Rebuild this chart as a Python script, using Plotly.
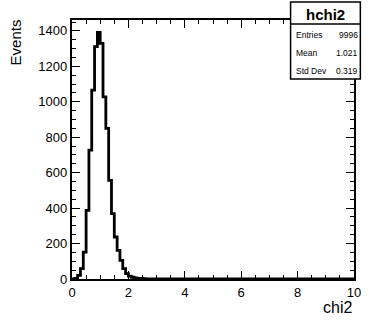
import numpy as np
import plotly.graph_objects as go

# ---- data (100 bins, 0..10) ----
x_min, x_max, n_bins = 0.0, 10.0, 100
counts = [
    1, 4, 20, 58, 152, 387, 727, 1066, 1311, 1392,
    1330, 1028, 850, 557, 369, 237, 161, 105, 58, 30,
    16, 10, 6, 4, 3, 2, 1, 1, 1, 0,
    0, 0, 0, 0, 0, 0, 0, 0, 0, 0,
    0, 0, 0, 0, 0, 0, 0, 0, 0, 0,
    0, 0, 0, 0, 0, 0, 0, 0, 0, 0,
    0, 0, 0, 0, 0, 0, 0, 0, 0, 0,
    0, 0, 0, 0, 0, 0, 0, 0, 0, 0,
    0, 0, 0, 0, 0, 0, 0, 0, 0, 0,
    0, 0, 0, 0, 0, 0, 0, 0, 0, 0,
]
hist_name = "hchi2"
stat_labels = ["Entries", "Mean", "Std Dev"]
stat_values = ["9996", "1.021", "0.319"]
x_title = "chi2"
y_title = "Events"
x_ticks = [0, 2, 4, 6, 8, 10]
y_ticks = [0, 200, 400, 600, 800, 1000, 1200, 1400]

# ---- layout geometry (pixels) ----
W, H = 368, 321
L, R, T, B = 72, 361, 20, 279
PW, PH = R - L, B - T


def px(x):
    return (x - L) / PW


def py(y):
    return (B - y) / PH


edges = np.linspace(x_min, x_max, n_bins + 1)
xs = list(edges)
ys = list(counts) + [counts[-1]]

FONT = "Liberation Sans, Arial, Helvetica, sans-serif"

fig = go.Figure()
fig.add_trace(go.Scatter(
    x=xs, y=ys, mode="lines", line=dict(color="black", width=2.8, shape="hv"),
    hoverinfo="skip", showlegend=False,
))

ymax = 1.05 * max(counts)

axis_common = dict(
    showline=True, linecolor="black", linewidth=2.4, mirror="allticks",
    ticks="inside", tickcolor="black", tickwidth=1.3,
    showgrid=False, zeroline=False,
    tickfont=dict(family=FONT, size=13, color="black"),
)
fig.update_xaxes(
    range=[x_min, x_max], tickvals=x_ticks, ticklen=8,
    minor=dict(ticks="inside", dtick=0.5, ticklen=4, tickcolor="black", tickwidth=1.3),
    **axis_common,
)
fig.update_yaxes(
    range=[0, ymax], tickvals=y_ticks, ticklen=8,
    minor=dict(ticks="inside", dtick=50, ticklen=4, tickcolor="black", tickwidth=1.3),
    **axis_common,
)

shapes = []
# stats box
bx0, bx1, by0, by1 = 296, 367.5, 2, 79
shapes.append(dict(type="rect", xref="paper", yref="paper",
                   x0=px(bx0), x1=px(bx1), y0=py(by1), y1=py(by0),
                   line=dict(color="black", width=1.5), fillcolor="white", layer="above"))
shapes.append(dict(type="line", xref="paper", yref="paper",
                   x0=px(bx0), x1=px(bx1), y0=py(24), y1=py(24),
                   line=dict(color="black", width=1.3), layer="above"))

annotations = []
annotations.append(dict(text="<b>" + hist_name + "</b>", xref="paper", yref="paper",
                        x=px(332), y=py(14), xanchor="center", yanchor="middle",
                        showarrow=False, font=dict(family=FONT, size=15, color="black")))
row_y = [35, 53, 71]
for lab, val, ry in zip(stat_labels, stat_values, row_y):
    annotations.append(dict(text=lab, xref="paper", yref="paper", x=px(300), y=py(ry),
                            xanchor="left", yanchor="middle", showarrow=False,
                            font=dict(family=FONT, size=8.5, color="black")))
    annotations.append(dict(text=val, xref="paper", yref="paper", x=px(367), y=py(ry),
                            xanchor="right", yanchor="middle", showarrow=False,
                            font=dict(family=FONT, size=8.5, color="black")))
annotations.append(dict(text=x_title, xref="paper", yref="paper", x=px(361), y=py(307),
                        xanchor="right", yanchor="middle", showarrow=False,
                        font=dict(family=FONT, size=16, color="black")))
annotations.append(dict(text=y_title, xref="paper", yref="paper", x=px(14), y=py(17),
                        xanchor="center", yanchor="top", textangle=-90, showarrow=False,
                        font=dict(family=FONT, size=15, color="black")))

fig.update_layout(
    width=W, height=H,
    margin=dict(l=L, r=W - R, t=T, b=H - B, pad=0),
    paper_bgcolor="white", plot_bgcolor="white",
    shapes=shapes, annotations=annotations,
    showlegend=False,
)

fig.write_html("out.html", config={"displayModeBar": False})
